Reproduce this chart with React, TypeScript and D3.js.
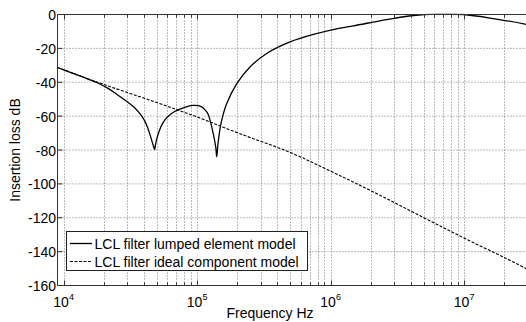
import React from 'react';
import * as d3 from 'd3';

const W = 526;
const H = 322;

const xDomain: [number, number] = [9e3, 3e7];
const yDomain: [number, number] = [-160, 0];
const yTickValues = [0, -20, -40, -60, -80, -100, -120, -140, -160];
const xMajorValues = [1e4, 1e5, 1e6, 1e7];
const xMajorExponents = ['4', '5', '6', '7'];
const xLabel = 'Frequency Hz';
const yLabel = 'Insertion loss dB';
const legendLabels = ['LCL filter lumped element model', 'LCL filter ideal component model'];

// ideal component model (dashed)
const idealFreq = [9e3, 2e4, 5e4, 1e5, 2e5, 5e5, 1e6, 2e6, 5e6, 1e7, 2e7, 3e7];
const idealDb = [-31.3, -41.3, -52, -60.5, -69.8, -81.5, -92.5, -104, -120, -132, -143.5, -150.5];

// lumped element model (solid)
const lumpedFreq = [
  9e3, 1.26e4, 1.52e4, 1.82e4, 2.15e4, 2.51e4, 3.03e4, 3.31e4, 3.61e4, 3.85e4, 4.05e4, 4.27e4,
  4.52e4, 4.7e4, 4.81e4, 4.86e4, 4.95e4, 5.09e4, 5.25e4, 5.43e4, 5.69e4, 6.05e4, 6.79e4, 8.07e4,
  9.31e4, 1.074e5, 1.146e5, 1.208e5, 1.25e5, 1.321e5, 1.38e5, 1.403e5, 1.429e5, 1.466e5,
  1.528e5, 1.667e5, 1.982e5, 2.489e5, 3.319e5, 4.966e5, 7.43e5, 1.175e6, 1.479e6, 2.63e6,
  4.17e6, 6.24e6, 9.86e6, 1.656e7, 2.858e7, 3e7,
];
const lumpedDb = [
  -31.3, -35.6, -38.1, -40.6, -43.6, -47.2, -51.8, -54.2, -57.2, -60, -62.8, -67,
  -73, -77.5, -79.8, -77.5, -74.5, -71, -68, -65.3, -62.6, -60.2, -57.3, -54.8,
  -53.7, -54.4, -56.3, -58.7, -62.5, -70.3, -78.5, -84, -77.5, -70.3,
  -62.5, -52.6, -40.8, -31, -23, -16.2, -11.8, -8, -6.7, -3,
  -0.6, 0.2, 0, -2.4, -5.7, -6.1,
];

const FONT = 'Arial, "Liberation Sans", Helvetica, sans-serif';

export default function App() {
  const x = d3.scaleLog().domain(xDomain).range([57.5, 527.8]);
  const y = d3.scaleLinear().domain(yDomain).range([285.5, 14.5]);
  const left = 57.5;
  const right = 527.8;
  const top = 14.5;
  const bottom = 285.5;

  const minor: number[] = [];
  for (let e = 4; e <= 7; e++) {
    for (let m = 2; m <= 9; m++) {
      const v = m * Math.pow(10, e);
      if (v <= xDomain[1]) minor.push(v);
    }
  }

  const line = d3
    .line<[number, number]>()
    .x((d) => x(d[0]))
    .y((d) => y(d[1]))
    .curve(d3.curveCatmullRom.alpha(0.5));

  const idealPath = line(idealFreq.map((f, i) => [f, idealDb[i]] as [number, number])) || '';
  const lumpedPath = line(lumpedFreq.map((f, i) => [f, lumpedDb[i]] as [number, number])) || '';

  const gridColor = '#777';
  const axisColor = '#333';

  return (
    <svg
      width={W}
      height={H}
      style={{ position: 'absolute', left: 0, top: 0, background: '#fff' }}
      fontFamily={FONT}
    >
      <defs>
        <clipPath id="plot">
          <rect x={left} y={top - 1} width={right - left} height={bottom - top + 2} />
        </clipPath>
      </defs>
      <rect x={0} y={0} width={W} height={H} fill="#fff" />
      {/* grid */}
      <g stroke={gridColor} strokeWidth={1} strokeDasharray="1,2" fill="none">
        {yTickValues.map((v) => (
          <line key={'gy' + v} x1={left} x2={right} y1={y(v)} y2={y(v)} />
        ))}
        {[...xMajorValues, ...minor].map((v) => (
          <line key={'gx' + v} x1={Math.round(x(v)) + 0.5} x2={Math.round(x(v)) + 0.5} y1={top} y2={bottom} />
        ))}
      </g>
      {/* curves */}
      <g clipPath="url(#plot)" fill="none" stroke="#000">
        <path d={idealPath} strokeWidth={1.1} strokeDasharray="3,1.5" />
        <path d={lumpedPath} strokeWidth={1.3} />
      </g>
      {/* frame */}
      <g stroke={axisColor} strokeWidth={1} fill="none">
        <line x1={left} x2={right} y1={bottom} y2={bottom} />
        <line x1={left} x2={right} y1={top} y2={top} />
        <line x1={left} x2={left} y1={top} y2={bottom} />
        <line x1={right} x2={right} y1={top} y2={bottom} />
        {xMajorValues.map((v) => (
          <g key={'tx' + v}>
            <line x1={Math.round(x(v)) + 0.5} x2={Math.round(x(v)) + 0.5} y1={bottom} y2={bottom - 5} />
            <line x1={Math.round(x(v)) + 0.5} x2={Math.round(x(v)) + 0.5} y1={top} y2={top + 5} />
          </g>
        ))}
        {minor.map((v) => (
          <g key={'tm' + v}>
            <line x1={Math.round(x(v)) + 0.5} x2={Math.round(x(v)) + 0.5} y1={bottom} y2={bottom - 3} />
            <line x1={Math.round(x(v)) + 0.5} x2={Math.round(x(v)) + 0.5} y1={top} y2={top + 3} />
          </g>
        ))}
        {yTickValues.map((v) => (
          <line key={'ty' + v} x1={left} x2={left + 5} y1={y(v)} y2={y(v)} />
        ))}
      </g>
      {/* y tick labels */}
      <g fontSize={14} fill="#000" textAnchor="end">
        {yTickValues.map((v) => (
          <text key={'ly' + v} x={56} y={y(v) + 5.5}>
            {String(v)}
          </text>
        ))}
      </g>
      {/* x tick labels */}
      <g fontSize={14} fill="#000" textAnchor="middle">
        {xMajorValues.map((v, i) => (
          <text key={'lx' + v} x={x(v)} y={306.5}>
            <tspan>10</tspan>
            <tspan dy={-7} fontSize={9}>
              {xMajorExponents[i]}
            </tspan>
          </text>
        ))}
      </g>
      <text x={270} y={317.5} fontSize={14} textAnchor="middle" fill="#000">
        {xLabel}
      </text>
      <text
        transform={`translate(20,${(top + bottom) / 2}) rotate(-90)`}
        fontSize={14}
        textAnchor="middle"
        fill="#000"
      >
        {yLabel}
      </text>
      {/* legend */}
      <g>
        <rect x={66.5} y={231.5} width={241} height={39} fill="#fff" stroke="#222" strokeWidth={1} />
        <line x1={70} x2={92} y1={243.5} y2={243.5} stroke="#000" strokeWidth={1.3} />
        <line x1={70} x2={92} y1={261.5} y2={261.5} stroke="#000" strokeWidth={1.1} strokeDasharray="3,1.5" />
        <text x={94.5} y={248.5} fontSize={14} fill="#000">
          {legendLabels[0]}
        </text>
        <text x={94.5} y={266.5} fontSize={14} fill="#000">
          {legendLabels[1]}
        </text>
      </g>
    </svg>
  );
}
